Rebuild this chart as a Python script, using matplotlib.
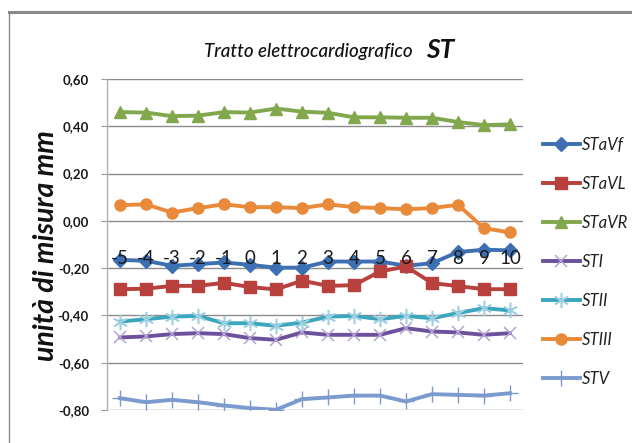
import matplotlib
matplotlib.use("Agg")
import matplotlib.pyplot as plt
from matplotlib.lines import Line2D

categories = ["-5", "-4", "-3", "-2", "-1", "0", "1", "2", "3", "4", "5", "6", "7", "8", "9", "10"]

st_avf = [-0.165, -0.169, -0.19, -0.183, -0.176, -0.186, -0.198, -0.198, -0.172, -0.172, -0.172, -0.19, -0.179, -0.132, -0.122, -0.125]
st_avl = [-0.289, -0.287, -0.275, -0.275, -0.262, -0.28, -0.29, -0.253, -0.275, -0.272, -0.214, -0.193, -0.263, -0.276, -0.289, -0.289]
st_avr = [0.46, 0.458, 0.443, 0.445, 0.46, 0.458, 0.475, 0.462, 0.457, 0.438, 0.438, 0.436, 0.436, 0.418, 0.405, 0.408]
st_i = [-0.493, -0.489, -0.479, -0.475, -0.479, -0.496, -0.503, -0.472, -0.482, -0.482, -0.482, -0.454, -0.468, -0.472, -0.482, -0.475]
st_ii = [-0.426, -0.416, -0.405, -0.402, -0.433, -0.433, -0.444, -0.43, -0.405, -0.402, -0.416, -0.402, -0.412, -0.39, -0.369, -0.379]
st_iii = [0.066, 0.07, 0.035, 0.054, 0.07, 0.058, 0.058, 0.054, 0.07, 0.058, 0.054, 0.049, 0.054, 0.068, -0.031, -0.049]
st_v = [-0.75, -0.767, -0.757, -0.767, -0.781, -0.792, -0.799, -0.754, -0.747, -0.739, -0.739, -0.764, -0.733, -0.736, -0.739, -0.729]

series_names = ["STaVf", "STaVL", "STaVR", "STI", "STII", "STIII", "STV"]
series_values = [st_avf, st_avl, st_avr, st_i, st_ii, st_iii, st_v]

y_ticks = [0.6, 0.4, 0.2, 0.0, -0.2, -0.4, -0.6, -0.8]
y_tick_labels = ["0,60", "0,40", "0,20", "0,00", "-0,20", "-0,40", "-0,60", "-0,80"]

title_main = "Tratto elettrocardiografico"
title_bold = "ST"
y_label = "unità di misura mm"

FONT = ["Lato", "DejaVu Sans"]

styles = [
    dict(color="#3D70B2", marker="D", ms=7, mfc="#3D70B2", mec="#3D70B2"),
    dict(color="#B8413D", marker="s", ms=9, mfc="#B8413D", mec="#B8413D"),
    dict(color="#82A84D", marker="^", ms=9, mfc="#82A84D", mec="#82A84D"),
    dict(color="#6E519C", marker="x", ms=9, mfc="none", mec="#B3A6D4", mew=1.1),
    dict(color="#3BA6BD", marker=(6, 2, 0), ms=11, mfc="none", mec="#9CCFE0", mew=1.1),
    dict(color="#E9893A", marker="o", ms=8, mfc="#E9893A", mec="#E9893A"),
    dict(color="#7B9BCF", marker="+", ms=11, mfc="none", mec="#7B9BCF", mew=1.0),
]

W, H = 632, 443
fig = plt.figure(figsize=(W / 100, H / 100), dpi=100)
fig.patch.set_facecolor("white")

ax = fig.add_axes([107 / W, 1 - 410 / H, (523 - 107) / W, (410 - 79) / H])
ax.set_facecolor("white")

x = list(range(len(categories)))
for name, vals, st in zip(series_names, series_values, styles):
    ax.plot(x, vals, label=name, lw=2.8, color=st["color"], marker=st["marker"],
            markersize=st["ms"], markerfacecolor=st["mfc"], markeredgecolor=st["mec"],
            markeredgewidth=st.get("mew", 1.0), solid_joinstyle="round", zorder=3)

ax.set_xlim(-0.5, len(categories) - 0.5)
ax.set_ylim(-0.8, 0.6)
ax.set_yticks(y_ticks)
ax.set_yticklabels(y_tick_labels, fontfamily=FONT, fontweight="bold", fontsize=9.5, color="#1a1a1a")
ax.tick_params(axis="y", length=4, color="#999999", pad=9)
ax.set_xticks([])
ax.grid(axis="y", color="#8c8c8c", lw=1.0, zorder=0)
for side in ["top", "right", "bottom"]:
    ax.spines[side].set_visible(False)
ax.spines["left"].set_color("#b0b0b0")
ax.spines["left"].set_linewidth(1.0)

for i, c in enumerate(categories):
    ax.text(i, -0.16, c, ha="center", va="center", fontsize=13.5,
            fontfamily=FONT, color="#1a1a1a", zorder=5)

fig.text(46 / W, 1 - 246 / H, y_label, rotation=90, ha="center", va="center",
         fontsize=20.5, fontweight="bold", fontstyle="italic",
         fontfamily=FONT, color="#111111")

fig.text(413 / W, 1 - 51 / H, title_main, ha="right", va="center", fontsize=13.5,
         fontstyle="italic", fontweight="medium", fontfamily=FONT, color="#111111")
fig.text(426 / W, 1 - 50 / H, title_bold, ha="left", va="center", fontsize=19,
         fontstyle="italic", fontweight="bold", fontfamily=FONT, color="#111111")

leg = fig.legend(loc="upper left", bbox_to_anchor=(543 / W, 1 - 137 / H), frameon=False,
                 handlelength=2.2, handletextpad=0.15, labelspacing=1.38, borderpad=0,
                 borderaxespad=0,
                 prop=dict(family=FONT, style="italic", size=12))
for t in leg.get_texts():
    t.set_color("#222222")

fig.add_artist(Line2D([9 / W, 1], [1 - 11.5 / H, 1 - 11.5 / H], transform=fig.transFigure,
                      color="#8a8a8a", lw=2.2))
fig.add_artist(Line2D([9 / W, 9 / W], [0, 1 - 11.5 / H], transform=fig.transFigure,
                      color="#8a8a8a", lw=1.0))

fig.savefig("out.png", dpi=100)
